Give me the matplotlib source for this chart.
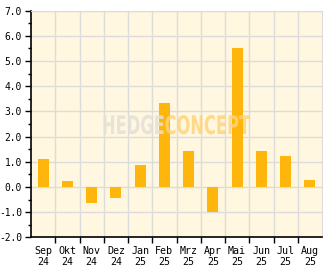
import matplotlib
matplotlib.use("Agg")
import matplotlib.pyplot as plt
import numpy as np
from matplotlib.ticker import MultipleLocator
from matplotlib.textpath import TextPath
from matplotlib.font_manager import FontProperties
from matplotlib.patches import PathPatch
from matplotlib.transforms import Affine2D, IdentityTransform

months = ["Sep\n24", "Okt\n24", "Nov\n24", "Dez\n24", "Jan\n25", "Feb\n25",
          "Mrz\n25", "Apr\n25", "Mai\n25", "Jun\n25", "Jul\n25", "Aug\n25"]
values = [1.10, 0.24, -0.62, -0.43, 0.88, 3.33, 1.43, -0.98, 5.52, 1.43, 1.23, 0.28]

plt.rcParams['font.family'] = ['DejaVu Sans Mono']

W, H = 332, 269
fig = plt.figure(figsize=(W / 100, H / 100), dpi=100)
ax = fig.add_axes([31 / W, 1 - 237.3 / H, 291 / W, 226.6 / H])
ax.set_facecolor("#fff7df")

x = np.arange(len(values))
ax.bar(x, values, width=0.45, color="#ffb60c", zorder=3)

ax.set_xlim(-0.5, len(values) - 0.5)
ax.set_ylim(-2, 7)

# grid lines at category edges, labels centred
ax.set_xticks(x[:-1] + 0.5, minor=False)
ax.set_xticklabels([])
ax.set_xticks(x, minor=True)
ax.set_xticklabels(months, minor=True, fontsize=7.2, linespacing=1.15)
ax.tick_params(axis='x', which='minor', length=0, pad=6)
ax.tick_params(axis='x', which='major', length=4, width=1, direction='out')

ax.set_yticks(np.arange(-2, 8, 1))
ax.set_yticklabels([f"{v:.1f}" for v in np.arange(-2, 8, 1)], fontsize=6.9)
ax.yaxis.set_minor_locator(MultipleLocator(0.5))
ax.tick_params(axis='y', which='major', length=4, width=1, direction='out', pad=2.5)
ax.tick_params(axis='y', which='minor', length=2.5, width=1, direction='out')

ax.grid(True, which='major', color="#dcdcdc", linewidth=1, zorder=0)
ax.set_axisbelow(True)

for s in ['top', 'right']:
    ax.spines[s].set_color("#dcdcdc")
for s in ['left', 'bottom']:
    ax.spines[s].set_color("black")
    ax.spines[s].set_linewidth(1.2)

# watermark, squeezed into its pixel box
fp = FontProperties(family='DejaVu Sans', weight='bold')
p1 = TextPath((0, 0), "HEDGE", size=10, prop=fp)
p2 = TextPath((0, 0), "CONCEPT", size=10, prop=fp)
e1 = p1.get_extents()
e2 = p2.get_extents()
gap = 0.6
total = e1.x1 + gap + e2.x1
x0, x1, ytop, ybot = 102, 250, 115, 134
sx = (x1 - x0) / total
sy = (ybot - ytop) / max(e1.y1, e2.y1)
base = H - ybot
t1 = Affine2D().scale(sx, sy).translate(x0, base)
t2 = Affine2D().translate(e1.x1 + gap, 0).scale(sx, sy).translate(x0, base)
fig.patches.append(PathPatch(t1.transform_path(p1), facecolor="#e4e0d8", edgecolor='none',
                             alpha=0.85, transform=IdentityTransform(), figure=fig, zorder=5))
fig.patches.append(PathPatch(t2.transform_path(p2), facecolor="#ffd47c", edgecolor='none',
                             alpha=0.85, transform=IdentityTransform(), figure=fig, zorder=5))

fig.savefig("out.png", dpi=100)
